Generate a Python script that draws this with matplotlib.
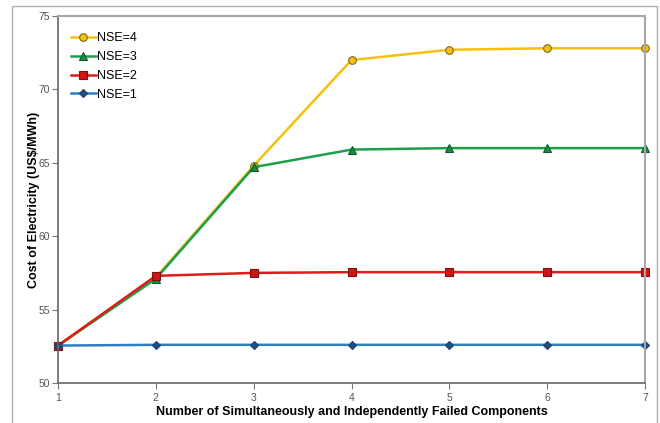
import numpy as np
import matplotlib.pyplot as plt
from matplotlib.patches import Rectangle

plt.rcParams['font.family'] = ['Liberation Sans', 'DejaVu Sans']

# data
failed = [1, 2, 3, 4, 5, 6, 7]
nse4 = [52.55, 57.2, 64.8, 72.0, 72.7, 72.8, 72.8]
nse3 = [52.55, 57.1, 64.7, 65.9, 66.0, 66.0, 66.0]
nse2 = [52.55, 57.3, 57.5, 57.55, 57.55, 57.55, 57.55]
nse1 = [52.55, 52.6, 52.6, 52.6, 52.6, 52.6, 52.6]

fig = plt.figure(figsize=(6.6, 4.23), dpi=100)
ax = fig.add_axes([58 / 660, 1 - 383 / 423, 587 / 660, 367 / 423])

# outer chart frame
fig.patches.append(Rectangle((12 / 660, -0.01), 645 / 660, 1 - 6 / 423 + 0.01,
                             transform=fig.transFigure, fill=False,
                             edgecolor='#b0b0b0', lw=1.0))

ax.plot(failed, nse4, color='#f5c00f', lw=1.8, marker='o', ms=5.5,
        mfc='#f5c00f', mec='#7a6a20', mew=0.8, label='NSE=4', clip_on=False)
ax.plot(failed, nse3, color='#1aa04a', lw=1.8, marker='^', ms=5.5,
        mfc='#1a9040', mec='#0d5a2a', mew=0.8, label='NSE=3', clip_on=False)
ax.plot(failed, nse2, color='#e01b1b', lw=1.8, marker='s', ms=5.5,
        mfc='#d01515', mec='#801010', mew=0.8, label='NSE=2', clip_on=False)
ax.plot(failed, nse1, color='#2f7fc0', lw=1.8, marker='D', ms=4.5,
        mfc='#1f4f80', mec='#1f3f70', mew=0.8, label='NSE=1', clip_on=False)

ax.set_xlim(1, 7)
ax.set_ylim(50, 75)
ax.set_xticks(failed)
ax.set_yticks([50, 55, 60, 65, 70, 75])
ax.tick_params(axis='both', labelsize=7.5, labelcolor='#555555', color='#777777',
               length=4, direction='out')
ax.tick_params(axis='y', pad=2)

for side in ['left', 'bottom']:
    ax.spines[side].set_color('#666666')
    ax.spines[side].set_linewidth(1.2)
for side in ['top', 'right']:
    ax.spines[side].set_color('#a8a8a8')
    ax.spines[side].set_linewidth(1.5)

ax.set_xlabel('Number of Simultaneously and Independently Failed Components',
              fontsize=9, fontweight='bold', labelpad=2)
ax.set_ylabel('Cost of Electricity (US$/MWh)', fontsize=9, fontweight='bold',
              labelpad=-1)

ax.legend(loc='upper left', bbox_to_anchor=(0.0, 0.99), frameon=False,
          fontsize=9, handlelength=2.0, handletextpad=0.1, labelspacing=0.55,
          borderaxespad=0.6)

fig.savefig('out.png', dpi=100)
